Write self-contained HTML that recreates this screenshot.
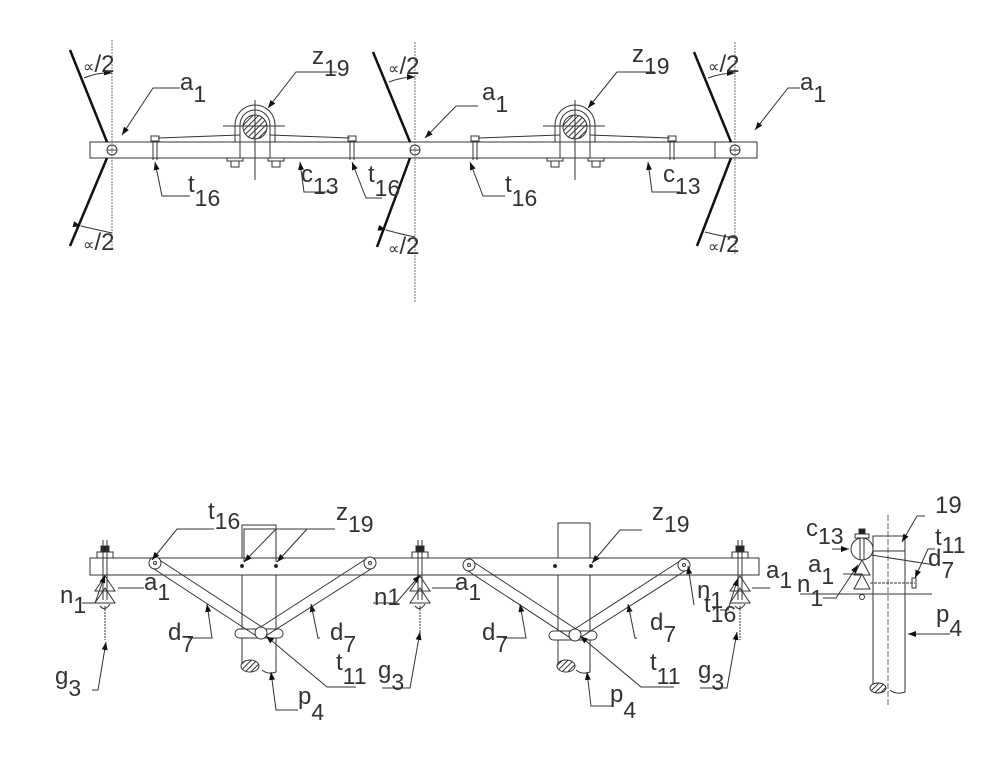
<!DOCTYPE html>
<html><head><meta charset="utf-8"><style>
html,body{margin:0;padding:0;background:#fff;}
svg{display:block;}
text{font-family:"Liberation Sans",sans-serif;fill:#333;font-size:24px;}
tspan.b{font-size:23px;}
</style></head><body>
<svg width="999" height="758" viewBox="0 0 999 758" xmlns="http://www.w3.org/2000/svg">
<defs>
<pattern id="h" width="4" height="4" patternUnits="userSpaceOnUse" patternTransform="rotate(45)"><rect width="4" height="4" fill="#fff"/><line x1="0" y1="0" x2="0" y2="4" stroke="#333" stroke-width="2"/></pattern>
<marker id="ar" markerWidth="8" markerHeight="6" refX="8" refY="3" orient="auto" markerUnits="userSpaceOnUse"><path d="M0,0 L8,3 L0,6z" fill="#111"/></marker>
</defs>
<g stroke="#333" fill="none" stroke-width="1">
<rect x="90" y="142" width="667" height="16"/>
<line x1="715" y1="142" x2="715" y2="158"/>
<g stroke-dasharray="2,1" stroke="#777">
<line x1="112" y1="40" x2="112" y2="250"/>
<line x1="415" y1="42" x2="415" y2="302"/>
<line x1="735" y1="42" x2="735" y2="255"/>
</g>
<g stroke="#111" stroke-width="2.5">
<line x1="70" y1="50" x2="107" y2="142"/><line x1="107" y1="158" x2="70" y2="246"/>
<line x1="373" y1="52" x2="410" y2="142"/><line x1="410" y1="158" x2="377" y2="247"/>
<line x1="694" y1="52" x2="731" y2="142"/><line x1="731" y1="158" x2="697" y2="246"/>
</g>
<circle cx="112" cy="150" r="5"/><line x1="107" y1="150" x2="117" y2="150"/>
<circle cx="415" cy="150" r="5"/><line x1="410" y1="150" x2="420" y2="150"/>
<circle cx="735" cy="150" r="5"/><line x1="730" y1="150" x2="740" y2="150"/>
<path d="M84,78 Q98,72 112,73" marker-end="url(#ar)"/>
<path d="M81,226 Q98,230 112,233" marker-start="url(#ar)"/>
<path d="M389,82 Q402,77 415,77" marker-end="url(#ar)"/>
<path d="M386,230 Q400,234 415,237" marker-start="url(#ar)"/>
<path d="M708,78 Q722,73 735,73" marker-end="url(#ar)"/>
<path d="M705,232 Q720,236 735,238"/>
<g id="cl">
<line x1="158" y1="138" x2="240" y2="135"/>
<line x1="270" y1="135" x2="350" y2="138"/>
<path d="M235,142 V125 A20,20 0 0 1 275,125 V142"/>
<path d="M240,158 V125 A15,15 0 0 1 270,125 V158"/>
<circle cx="255" cy="127" r="12" fill="url(#h)"/>
<line x1="223" y1="126" x2="285" y2="126"/>
<line x1="255" y1="100" x2="255" y2="180"/>
<rect x="227" y="158" width="16" height="3"/><rect x="268" y="158" width="16" height="3"/>
<rect x="231" y="161" width="8" height="6"/><rect x="272" y="161" width="8" height="6"/>
<rect x="151" y="136" width="8" height="5"/><rect x="348" y="136" width="8" height="5"/>
<line x1="153" y1="141" x2="153" y2="160"/><line x1="157" y1="141" x2="157" y2="160"/>
<line x1="350" y1="141" x2="350" y2="160"/><line x1="354" y1="141" x2="354" y2="160"/>
</g>
<use href="#cl" transform="translate(320,0)"/>
<polyline points="180,88 153,88 122,135" marker-end="url(#ar)"/>
<polyline points="337,72 296,72 268,108" marker-end="url(#ar)"/>
<polyline points="190,196 162,196 155,162" marker-end="url(#ar)"/>
<polyline points="335,192 304,192 300,162" marker-end="url(#ar)"/>
<polyline points="382,198 366,198 352,162" marker-end="url(#ar)"/>
<polyline points="478,106 456,106 425,138" marker-end="url(#ar)"/>
<polyline points="655,72 617,72 588,108" marker-end="url(#ar)"/>
<polyline points="505,196 483,196 470,162" marker-end="url(#ar)"/>
<polyline points="680,192 652,192 648,162" marker-end="url(#ar)"/>
<polyline points="800,88 788,88 755,130" marker-end="url(#ar)"/>
<rect x="90" y="558" width="669" height="17"/>
<path d="M242,558 V525 H276 V558"/><path d="M558,558 V523 H590 V558"/>
<path d="M242,575 V668"/><path d="M276,575 V672 Q268,675 262,670"/>
<path d="M558,575 V668"/><path d="M590,575 V672 Q582,675 576,670"/>
<ellipse cx="250" cy="666" rx="9" ry="6" fill="url(#h)"/>
<ellipse cx="566" cy="666" rx="9" ry="6" fill="url(#h)"/>
<circle cx="242" cy="566" r="1.5" fill="#111"/><circle cx="276" cy="566" r="1.5" fill="#111"/>
<circle cx="555" cy="566" r="1.5" fill="#111"/><circle cx="591" cy="566" r="1.5" fill="#111"/>
<g id="br">
<rect x="235" y="629" width="48" height="9" rx="4.5" fill="#fff"/>
<path d="M151,567 L258,637 M158,559 L265,629" fill="none"/>
<path d="M374,567 L264,637 M366,559 L256,630"/>
<circle cx="155" cy="563" r="6" fill="#fff"/><circle cx="370" cy="563" r="6" fill="#fff"/>
<circle cx="155" cy="563" r="1.5"/><circle cx="370" cy="563" r="1.5"/>
<circle cx="261" cy="633" r="6" fill="#fff"/>
</g>
<use href="#br" transform="translate(314,2)"/>
<g id="ins">
<rect x="97" y="552" width="16" height="6"/><rect x="101" y="546" width="8" height="6" fill="#222"/>
<line x1="103" y1="540" x2="103" y2="600"/><line x1="107" y1="540" x2="107" y2="600"/>
<path d="M105,576 L95,591 H115 Z"/><path d="M105,588 L95,603 H115 Z"/>
<path d="M100,606 Q105,612 110,604"/>
<line x1="105" y1="606" x2="105" y2="640" stroke-dasharray="2,1"/>
</g>
<use href="#ins" transform="translate(315,0)"/>
<use href="#ins" transform="translate(635,0)"/>
<polyline points="214,529 177,529 152,560" marker-end="url(#ar)"/>
<polyline points="335,529 244,529 244,562"/>
<line x1="276" y1="529" x2="276" y2="562"/>
<line x1="276" y1="529" x2="244" y2="562" marker-end="url(#ar)"/>
<line x1="307" y1="529" x2="277" y2="562" marker-end="url(#ar)"/>
<polyline points="82,603 95,603 105,575" marker-end="url(#ar)"/>
<line x1="118" y1="588" x2="144" y2="588"/>
<polyline points="92,690 98,690 106,642" marker-end="url(#ar)"/>
<polyline points="188,638 212,638 207,604" marker-end="url(#ar)"/>
<polyline points="320,638 318,638 311,604" marker-end="url(#ar)"/>
<polyline points="356,687 327,687 266,636" marker-end="url(#ar)"/>
<polyline points="298,710 276,710 271,672" marker-end="url(#ar)"/>
<polyline points="373,603 396,603 420,575" marker-end="url(#ar)"/>
<line x1="432" y1="588" x2="458" y2="588"/>
<polyline points="382,688 410,688 420,632" marker-end="url(#ar)"/>
<polyline points="642,530 620,530 592,563" marker-end="url(#ar)"/>
<polyline points="503,638 526,638 520,604" marker-end="url(#ar)"/>
<polyline points="637,638 635,638 628,604" marker-end="url(#ar)"/>
<polyline points="674,687 641,687 580,636" marker-end="url(#ar)"/>
<polyline points="612,706 591,706 587,672" marker-end="url(#ar)"/>
<polyline points="720,610 728,610 738,578" marker-end="url(#ar)"/>
<line x1="752" y1="588" x2="770" y2="588"/>
<polyline points="694,605 694,605 688,566" marker-end="url(#ar)"/>
<polyline points="700,688 727,688 737,632" marker-end="url(#ar)"/>
<line x1="888" y1="515" x2="888" y2="705" stroke-dasharray="6,2" stroke="#666"/>
<rect x="873" y="536" width="32" height="15"/>
<path d="M873,551 V690 M905,551 V692 Q896,695 890,690"/>
<ellipse cx="878" cy="688" rx="8" ry="5" fill="url(#h)"/>
<line x1="800" y1="594" x2="932" y2="594"/>
<circle cx="862" cy="549" r="11"/>
<line x1="860" y1="538" x2="860" y2="560"/><line x1="864" y1="538" x2="864" y2="560"/>
<rect x="855" y="534" width="14" height="4"/><rect x="859" y="529" width="6" height="5" fill="#222"/>
<path d="M862,560 L854,575 H870 Z"/><path d="M862,574 L854,589 H870 Z"/>
<circle cx="862" cy="597" r="2.5"/>
<line x1="871" y1="555" x2="935" y2="565"/>
<line x1="870" y1="583" x2="915" y2="583" stroke-dasharray="3,1"/>
<rect x="912" y="578" width="4" height="10"/>
<polyline points="925,516 917,516 902,542" marker-end="url(#ar)"/>
<line x1="832" y1="549" x2="849" y2="549" marker-end="url(#ar)"/>
<polyline points="935,549 928,549 915,578" marker-end="url(#ar)"/>
<line x1="843" y1="574" x2="862" y2="574"/>
<polyline points="823,598 836,598 858,565" marker-end="url(#ar)"/>
<line x1="950" y1="634" x2="908" y2="634" marker-end="url(#ar)"/>
</g>
<g>
<text x="83" y="72" font-size="22"><tspan font-size="16">∝</tspan>/2</text>
<text x="388" y="74" font-size="22"><tspan font-size="16">∝</tspan>/2</text>
<text x="708" y="72" font-size="22"><tspan font-size="16">∝</tspan>/2</text>
<text x="83" y="250" font-size="22"><tspan font-size="16">∝</tspan>/2</text>
<text x="388" y="254" font-size="22"><tspan font-size="16">∝</tspan>/2</text>
<text x="708" y="252" font-size="22"><tspan font-size="16">∝</tspan>/2</text>
<text x="180" y="90">a<tspan class="b" dy="12">1</tspan></text>
<text x="632" y="62">z<tspan class="b" dy="12">19</tspan></text>
<text x="312" y="64">z<tspan class="b" dy="12">19</tspan></text>
<text x="188" y="192">t<tspan class="b" dy="14">16</tspan></text>
<text x="301" y="182">c<tspan class="b" dy="12">13</tspan></text>
<text x="368" y="182">t<tspan class="b" dy="14">16</tspan></text>
<text x="482" y="100">a<tspan class="b" dy="12">1</tspan></text>
<text x="505" y="192">t<tspan class="b" dy="14">16</tspan></text>
<text x="663" y="182">c<tspan class="b" dy="12">13</tspan></text>
<text x="800" y="90">a<tspan class="b" dy="12">1</tspan></text>
<text x="208" y="519">t<tspan class="b" dy="10">16</tspan></text>
<text x="336" y="520">z<tspan class="b" dy="12">19</tspan></text>
<text x="144" y="590">a<tspan class="b" dy="10">1</tspan></text>
<text x="60" y="603">n<tspan class="b" dy="10">1</tspan></text>
<text x="168" y="640">d<tspan class="b" dy="12">7</tspan></text>
<text x="330" y="640">d<tspan class="b" dy="12">7</tspan></text>
<text x="336" y="670">t<tspan class="b" dy="14">11</tspan></text>
<text x="55" y="684">g<tspan class="b" dy="12">3</tspan></text>
<text x="298" y="704">p<tspan class="b" dy="16">4</tspan></text>
<text x="374" y="605">n1</text>
<text x="455" y="590">a<tspan class="b" dy="10">1</tspan></text>
<text x="378" y="678">g<tspan class="b" dy="12">3</tspan></text>
<text x="482" y="640">d<tspan class="b" dy="12">7</tspan></text>
<text x="650" y="630">d<tspan class="b" dy="12">7</tspan></text>
<text x="650" y="670">t<tspan class="b" dy="14">11</tspan></text>
<text x="610" y="702">p<tspan class="b" dy="16">4</tspan></text>
<text x="652" y="520">z<tspan class="b" dy="12">19</tspan></text>
<text x="697" y="598">n<tspan class="b" dy="10">1</tspan></text>
<text x="704" y="612">t<tspan class="b" dy="10">16</tspan></text>
<text x="766" y="578">a<tspan class="b" dy="10">1</tspan></text>
<text x="698" y="678">g<tspan class="b" dy="12">3</tspan></text>
<text x="935" y="513">19</text>
<text x="806" y="536">c<tspan class="b" dy="8">13</tspan></text>
<text x="935" y="545">t<tspan class="b" dy="8">11</tspan></text>
<text x="808" y="572">a<tspan class="b" dy="12">1</tspan></text>
<text x="928" y="566">d<tspan class="b" dy="12">7</tspan></text>
<text x="797" y="592">n<tspan class="b" dy="14">1</tspan></text>
<text x="936" y="622">p<tspan class="b" dy="14">4</tspan></text>
</g>
</svg>
</body></html>
